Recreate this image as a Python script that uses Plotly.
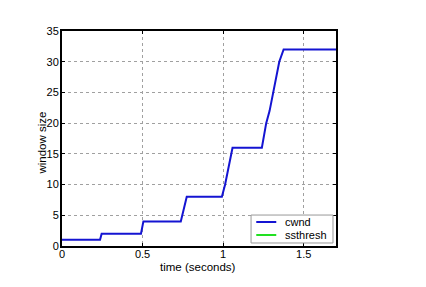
import plotly.graph_objects as go

time_s = [0, 0.236, 0.246, 0.49, 0.505, 0.737, 0.774, 0.992, 1.012, 1.033, 1.058,
          1.24, 1.267, 1.288, 1.312, 1.329, 1.348, 1.375, 1.7]
cwnd = [1, 1, 2, 2, 4, 4, 8, 8, 10, 13, 16,
        16, 20, 22, 25, 27.6, 30, 32, 32]
ssthresh_t = [0, 1.7]
ssthresh = [None, None]

x_ticks = [0, 0.5, 1, 1.5]
x_labels = ["0", "0.5", "1", "1.5"]
y_ticks = [0, 5, 10, 15, 20, 25, 30, 35]

series_names = ["cwnd", "ssthresh"]
series_colors = ["#1414d2", "#22e022"]

fig = go.Figure()
fig.add_trace(go.Scatter(x=time_s, y=cwnd, mode="lines", name=series_names[0],
                         line=dict(color=series_colors[0], width=2)))
fig.add_trace(go.Scatter(x=ssthresh_t, y=ssthresh, mode="lines", name=series_names[1],
                         line=dict(color=series_colors[1], width=2)))

axis_common = dict(showline=True, linecolor="black", linewidth=2, mirror="ticks",
                   ticks="inside", ticklen=3, tickcolor="black",
                   showgrid=True, gridcolor="#a0a0a0", griddash="dot", gridwidth=1,
                   zeroline=False, tickfont=dict(size=11, color="black"))

fig.update_layout(
    width=426, height=287,
    margin=dict(l=62, r=90, t=31, b=41),
    paper_bgcolor="white", plot_bgcolor="white",
    font=dict(family="Liberation Sans, Arial, sans-serif", size=11, color="black"),
    xaxis=dict(range=[0, 1.7], tickvals=x_ticks, ticktext=x_labels,
               ticklabelstandoff=-3, **axis_common),
    yaxis=dict(range=[0, 35], tickvals=y_ticks, ticklabelstandoff=-1, **axis_common),
    showlegend=False,
)

# axis titles
fig.add_annotation(text="time (seconds)", xref="paper", yref="paper",
                   x=0.497, y=-0.097, xanchor="center", yanchor="middle",
                   showarrow=False, font=dict(size=11.5))
fig.add_annotation(text="window size", xref="paper", yref="paper",
                   x=-0.073, y=0.481, xanchor="center", yanchor="middle",
                   textangle=-90, showarrow=False, font=dict(size=11.5))

# legend box (drawn to match the compact original legend)
fig.add_shape(type="rect", xref="paper", yref="paper",
              x0=0.690, x1=0.989, y0=0.014, y1=0.144,
              line=dict(color="#999999", width=1), fillcolor="white", layer="above")
leg_y = [0.1116, 0.0512]
for name, color, yy in zip(series_names, series_colors, leg_y):
    fig.add_shape(type="line", xref="paper", yref="paper",
                  x0=0.709, x1=0.782, y0=yy, y1=yy,
                  line=dict(color=color, width=2), layer="above")
    fig.add_annotation(text=name, xref="paper", yref="paper",
                       x=0.806, y=yy, xanchor="left", yanchor="middle",
                       showarrow=False, font=dict(size=11))

fig.write_html("out.html")
